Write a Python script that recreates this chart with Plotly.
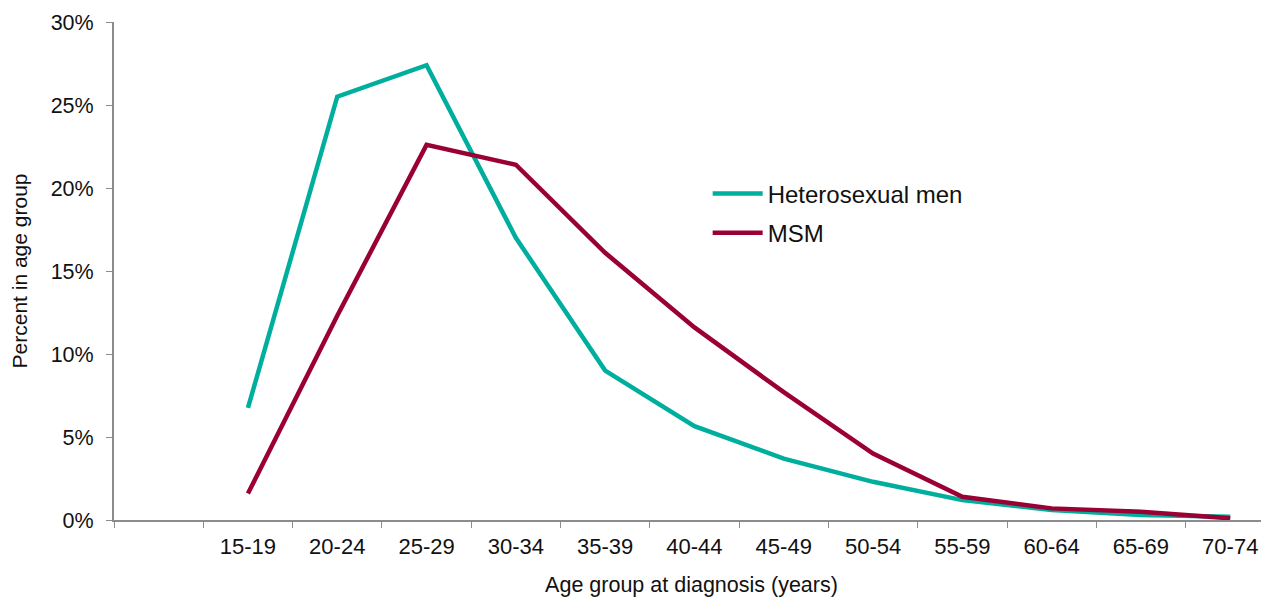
import plotly.graph_objects as go

age_groups = ["15-19", "20-24", "25-29", "30-34", "35-39", "40-44",
              "45-49", "50-54", "55-59", "60-64", "65-69", "70-74"]
hetero_men = [6.75, 25.5, 27.4, 17.0, 9.0, 5.65, 3.7, 2.3, 1.2, 0.6, 0.3, 0.2]
msm = [1.6, 12.3, 22.6, 21.4, 16.1, 11.6, 7.7, 4.0, 1.4, 0.7, 0.5, 0.1]

font_family = "Liberation Sans, Arial, sans-serif"


def render_fig():
    fig = go.Figure()
    fig.add_trace(
        go.Scatter(
            x=age_groups,
            y=[v / 100 for v in hetero_men],
            name="Heterosexual men",
            mode="lines",
            line=dict(color="#00AE9E", width=4.5),
            legendgroup="a",
        )
    )
    fig.add_trace(
        go.Scatter(
            x=age_groups,
            y=[v / 100 for v in msm],
            name="MSM",
            mode="lines",
            line=dict(color="#9B0035", width=4.5),
            legendgroup="b",
        )
    )
    # page body has an 8px margin, so the figure is a bit smaller than the window
    fig.update_layout(
        width=1261,
        height=589,
        margin=dict(l=106, r=0, t=14, b=77),
        paper_bgcolor="white",
        plot_bgcolor="white",
        font=dict(family=font_family, size=21, color="#111111"),
        legend=dict(
            x=0.514,
            y=0.70,
            xanchor="left",
            yanchor="top",
            bgcolor="rgba(0,0,0,0)",
            traceorder="grouped",
            tracegroupgap=5,
            itemwidth=50,
            font=dict(size=24),
        ),
    )
    # the original chart runs a little past the right edge of the image
    fig.update_xaxes(
        type="category",
        categoryorder="array",
        categoryarray=[" "] + age_groups,
        range=[-0.5, 12.434],
        tickson="boundaries",
        ticks="outside",
        ticklen=6,
        tickcolor="#8c8c8c",
        showline=True,
        linecolor="#8c8c8c",
        linewidth=2,
        showgrid=False,
        tickfont=dict(size=22),
        ticklabelstandoff=6,
        title=dict(text="Age group at diagnosis (years)", font=dict(size=21.5), standoff=22),
    )
    fig.update_yaxes(
        range=[0, 0.30],
        tickvals=[0, 0.05, 0.10, 0.15, 0.20, 0.25, 0.30],
        tickformat=".0%",
        ticks="outside",
        ticklen=6,
        tickcolor="#8c8c8c",
        showline=True,
        linecolor="#8c8c8c",
        linewidth=2,
        showgrid=False,
        zeroline=False,
        tickfont=dict(size=21.5),
        ticklabelstandoff=8,
        title=dict(text="Percent in age group", font=dict(size=21), standoff=22),
    )
    return fig


fig = render_fig()
fig.write_html("out.html")
